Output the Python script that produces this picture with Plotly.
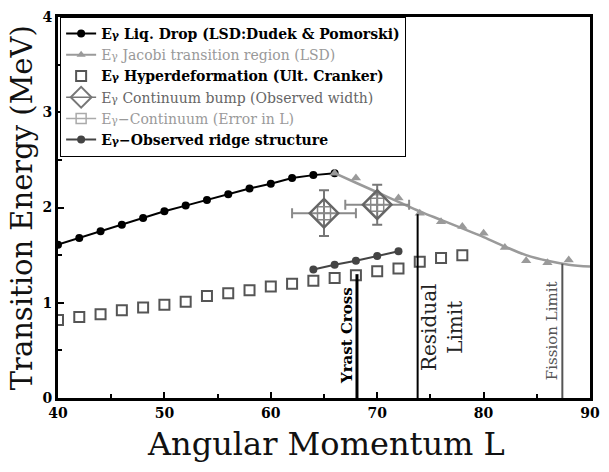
import plotly.graph_objects as go

# ---------------- data ----------------
liq_L = [40, 42, 44, 46, 48, 50, 52, 54, 56, 58, 60, 62, 64, 66]
liq_E = [1.61, 1.68, 1.75, 1.82, 1.89, 1.96, 2.02, 2.08, 2.14, 2.20, 2.25, 2.31, 2.34, 2.36]

jac_L = [66, 68, 70, 72, 74, 76, 78, 80, 82, 84, 86, 88]
jac_E = [2.36, 2.31, 2.15, 2.10, 1.94, 1.85, 1.80, 1.73, 1.58, 1.44, 1.42, 1.45]

jac_curve_L = [66, 68, 70, 72, 74, 76, 78, 80, 82, 84, 86, 88, 90]
jac_curve_E = [2.36, 2.26, 2.16, 2.06, 1.96, 1.87, 1.78, 1.69, 1.59, 1.50, 1.44, 1.40, 1.38]

hyp_L = [40, 42, 44, 46, 48, 50, 52, 54, 56, 58, 60, 62, 64, 66, 68, 70, 72, 74, 76, 78]
hyp_E = [0.82, 0.85, 0.88, 0.92, 0.95, 0.98, 1.01, 1.07, 1.10, 1.13, 1.17, 1.20, 1.23, 1.26,
         1.29, 1.33, 1.36, 1.43, 1.47, 1.50]

cont_L = [65.0, 70.0]
cont_E = [1.94, 2.03]
cont_errL = [3.0, 3.0]
cont_errE = [0.24, 0.21]

ridge_L = [64, 66, 68, 70, 72]
ridge_E = [1.35, 1.40, 1.44, 1.49, 1.54]

# vertical limit markers: (L, top energy)
yrast_L, yrast_top = 68.1, 1.30
resid_L, resid_top = 73.8, 1.93
fiss_L, fiss_top = 87.4, 1.41

x_ticks = [40, 50, 60, 70, 80, 90]
y_ticks = [0, 1, 2, 3, 4]

FONT = "DejaVu Serif"
EG = "E<span style='font-size:11px'>γ</span>"

names = [
    f"<b>{EG} Liq. Drop (LSD:Dudek &amp; Pomorski)</b>",
    f"<span style='color:#999999'>{EG} Jacobi transition region (LSD)</span>",
    f"<b>{EG} Hyperdeformation (Ult. Cranker)</b>",
    f"<span style='color:#666666'>{EG} Continuum bump (Observed width)</span>",
    f"<span style='color:#9a9a9a'>{EG}−Continuum (Error in L)</span>",
    f"<b>{EG}−Observed ridge structure</b>",
]

fig = go.Figure()

# Liquid drop
fig.add_trace(go.Scatter(x=liq_L, y=liq_E, mode="lines+markers", name=names[0],
                         line=dict(color="black", width=2),
                         marker=dict(symbol="circle", size=8, color="black"),
                         legendrank=1))
# Jacobi curve + triangles
fig.add_trace(go.Scatter(x=jac_curve_L, y=jac_curve_E, mode="lines", showlegend=False,
                         line=dict(color="#9a9a9a", width=2.5, shape="spline")))
fig.add_trace(go.Scatter(x=jac_L, y=jac_E, mode="markers", showlegend=False,
                         marker=dict(symbol="triangle-up", size=9, color="#9a9a9a")))
fig.add_trace(go.Scatter(x=[None], y=[None], mode="lines+markers", name=names[1],
                         line=dict(color="#9a9a9a", width=2),
                         marker=dict(symbol="triangle-up", size=8, color="#9a9a9a"),
                         legendrank=2))
# Hyperdeformation
fig.add_trace(go.Scatter(x=hyp_L, y=hyp_E, mode="markers", name=names[2],
                         marker=dict(symbol="square-open", size=10, color="#555555",
                                     line=dict(width=2, color="#555555")),
                         legendrank=3))
# Continuum error bars
fig.add_trace(go.Scatter(x=cont_L, y=cont_E, mode="markers", showlegend=False,
                         marker=dict(symbol="square-cross-open", size=13, color="#888888",
                                     line=dict(width=1.5, color="#888888")),
                         error_x=dict(type="data", array=cont_errL, color="#8a8a8a",
                                      thickness=2, width=5),
                         error_y=dict(type="data", array=cont_errE, color="#777777",
                                      thickness=2, width=5)))
# Continuum bump diamonds
fig.add_trace(go.Scatter(x=cont_L, y=cont_E, mode="markers", showlegend=False,
                         marker=dict(symbol="diamond-open", size=22, color="#666666",
                                     line=dict(width=2.5, color="#666666"))))
fig.add_trace(go.Scatter(x=[None], y=[None], mode="lines+markers", name=names[3],
                         line=dict(color="#777777", width=1.5),
                         marker=dict(symbol="diamond-open", size=16, color="#777777",
                                     line=dict(width=2, color="#777777")),
                         legendrank=4))
fig.add_trace(go.Scatter(x=[None], y=[None], mode="lines+markers", name=names[4],
                         line=dict(color="#aaaaaa", width=1.5),
                         marker=dict(symbol="square-open", size=10, color="#aaaaaa",
                                     line=dict(width=1.5, color="#aaaaaa")),
                         legendrank=5))
# Ridge
fig.add_trace(go.Scatter(x=ridge_L, y=ridge_E, mode="lines+markers", name=names[5],
                         line=dict(color="#444444", width=2),
                         marker=dict(symbol="circle", size=8, color="#444444"),
                         legendrank=6))

# vertical limit lines
fig.add_shape(type="line", x0=yrast_L, x1=yrast_L, y0=0, y1=yrast_top,
              line=dict(color="black", width=3))
fig.add_shape(type="line", x0=resid_L, x1=resid_L, y0=0, y1=resid_top,
              line=dict(color="black", width=2))
fig.add_shape(type="line", x0=fiss_L, x1=fiss_L, y0=0, y1=fiss_top,
              line=dict(color="#555555", width=2))

fig.add_annotation(x=67.15, y=0.66, text="<b>Yrast Cross</b>", textangle=-90, showarrow=False,
                   font=dict(family=FONT, size=15, color="black"))
fig.add_annotation(x=76.05, y=0.74, text="Residual<br>Limit", textangle=-90, showarrow=False,
                   font=dict(family=FONT, size=20, color="#222222"))
fig.add_annotation(x=86.5, y=0.71, text="Fission Limit", textangle=-90, showarrow=False,
                   font=dict(family=FONT, size=15, color="#555555"))

# axis titles
fig.add_annotation(xref="paper", yref="paper", x=0.503, y=-0.122, text="Angular Momentum L",
                   showarrow=False, yanchor="middle",
                   font=dict(family=FONT, size=32, color="#111111"))
fig.add_annotation(xref="paper", yref="paper", x=-0.068, y=0.5, text="Transition Energy (MeV)",
                   textangle=-90, showarrow=False, xanchor="center",
                   font=dict(family=FONT, size=29, color="#111111"))

axis_common = dict(showgrid=False, zeroline=False, showline=True, linecolor="black",
                   linewidth=3, mirror=True, ticks="inside", ticklen=6, tickwidth=1.5,
                   tickcolor="black",
                   tickfont=dict(family=FONT, size=14, color="black", weight="bold"))

fig.update_layout(
    width=609, height=472,
    margin=dict(l=58, r=9, t=12, b=74),
    paper_bgcolor="white", plot_bgcolor="white",
    font=dict(family=FONT),
    xaxis=dict(range=[40, 90], tickvals=x_ticks, ticktext=[str(v) for v in x_ticks],
               minor=dict(dtick=5, ticks="inside", ticklen=4, tickcolor="black"),
               **axis_common),
    yaxis=dict(range=[0, 4], tickvals=y_ticks, ticktext=[str(v) for v in y_ticks],
               minor=dict(dtick=0.5, ticks="inside", ticklen=4, tickcolor="black"),
               **axis_common),
    legend=dict(x=0.004, y=1, xanchor="left", yanchor="top", bgcolor="white",
                bordercolor="black", borderwidth=1, tracegroupgap=0,
                font=dict(family=FONT, size=14, color="black")),
    showlegend=True,
)

# remove the browser's default 8px page margin so the figure sits at the window's corner
fig.write_html("out.html", config={"displayModeBar": False},
               post_script="document.body.style.margin='0px';")
